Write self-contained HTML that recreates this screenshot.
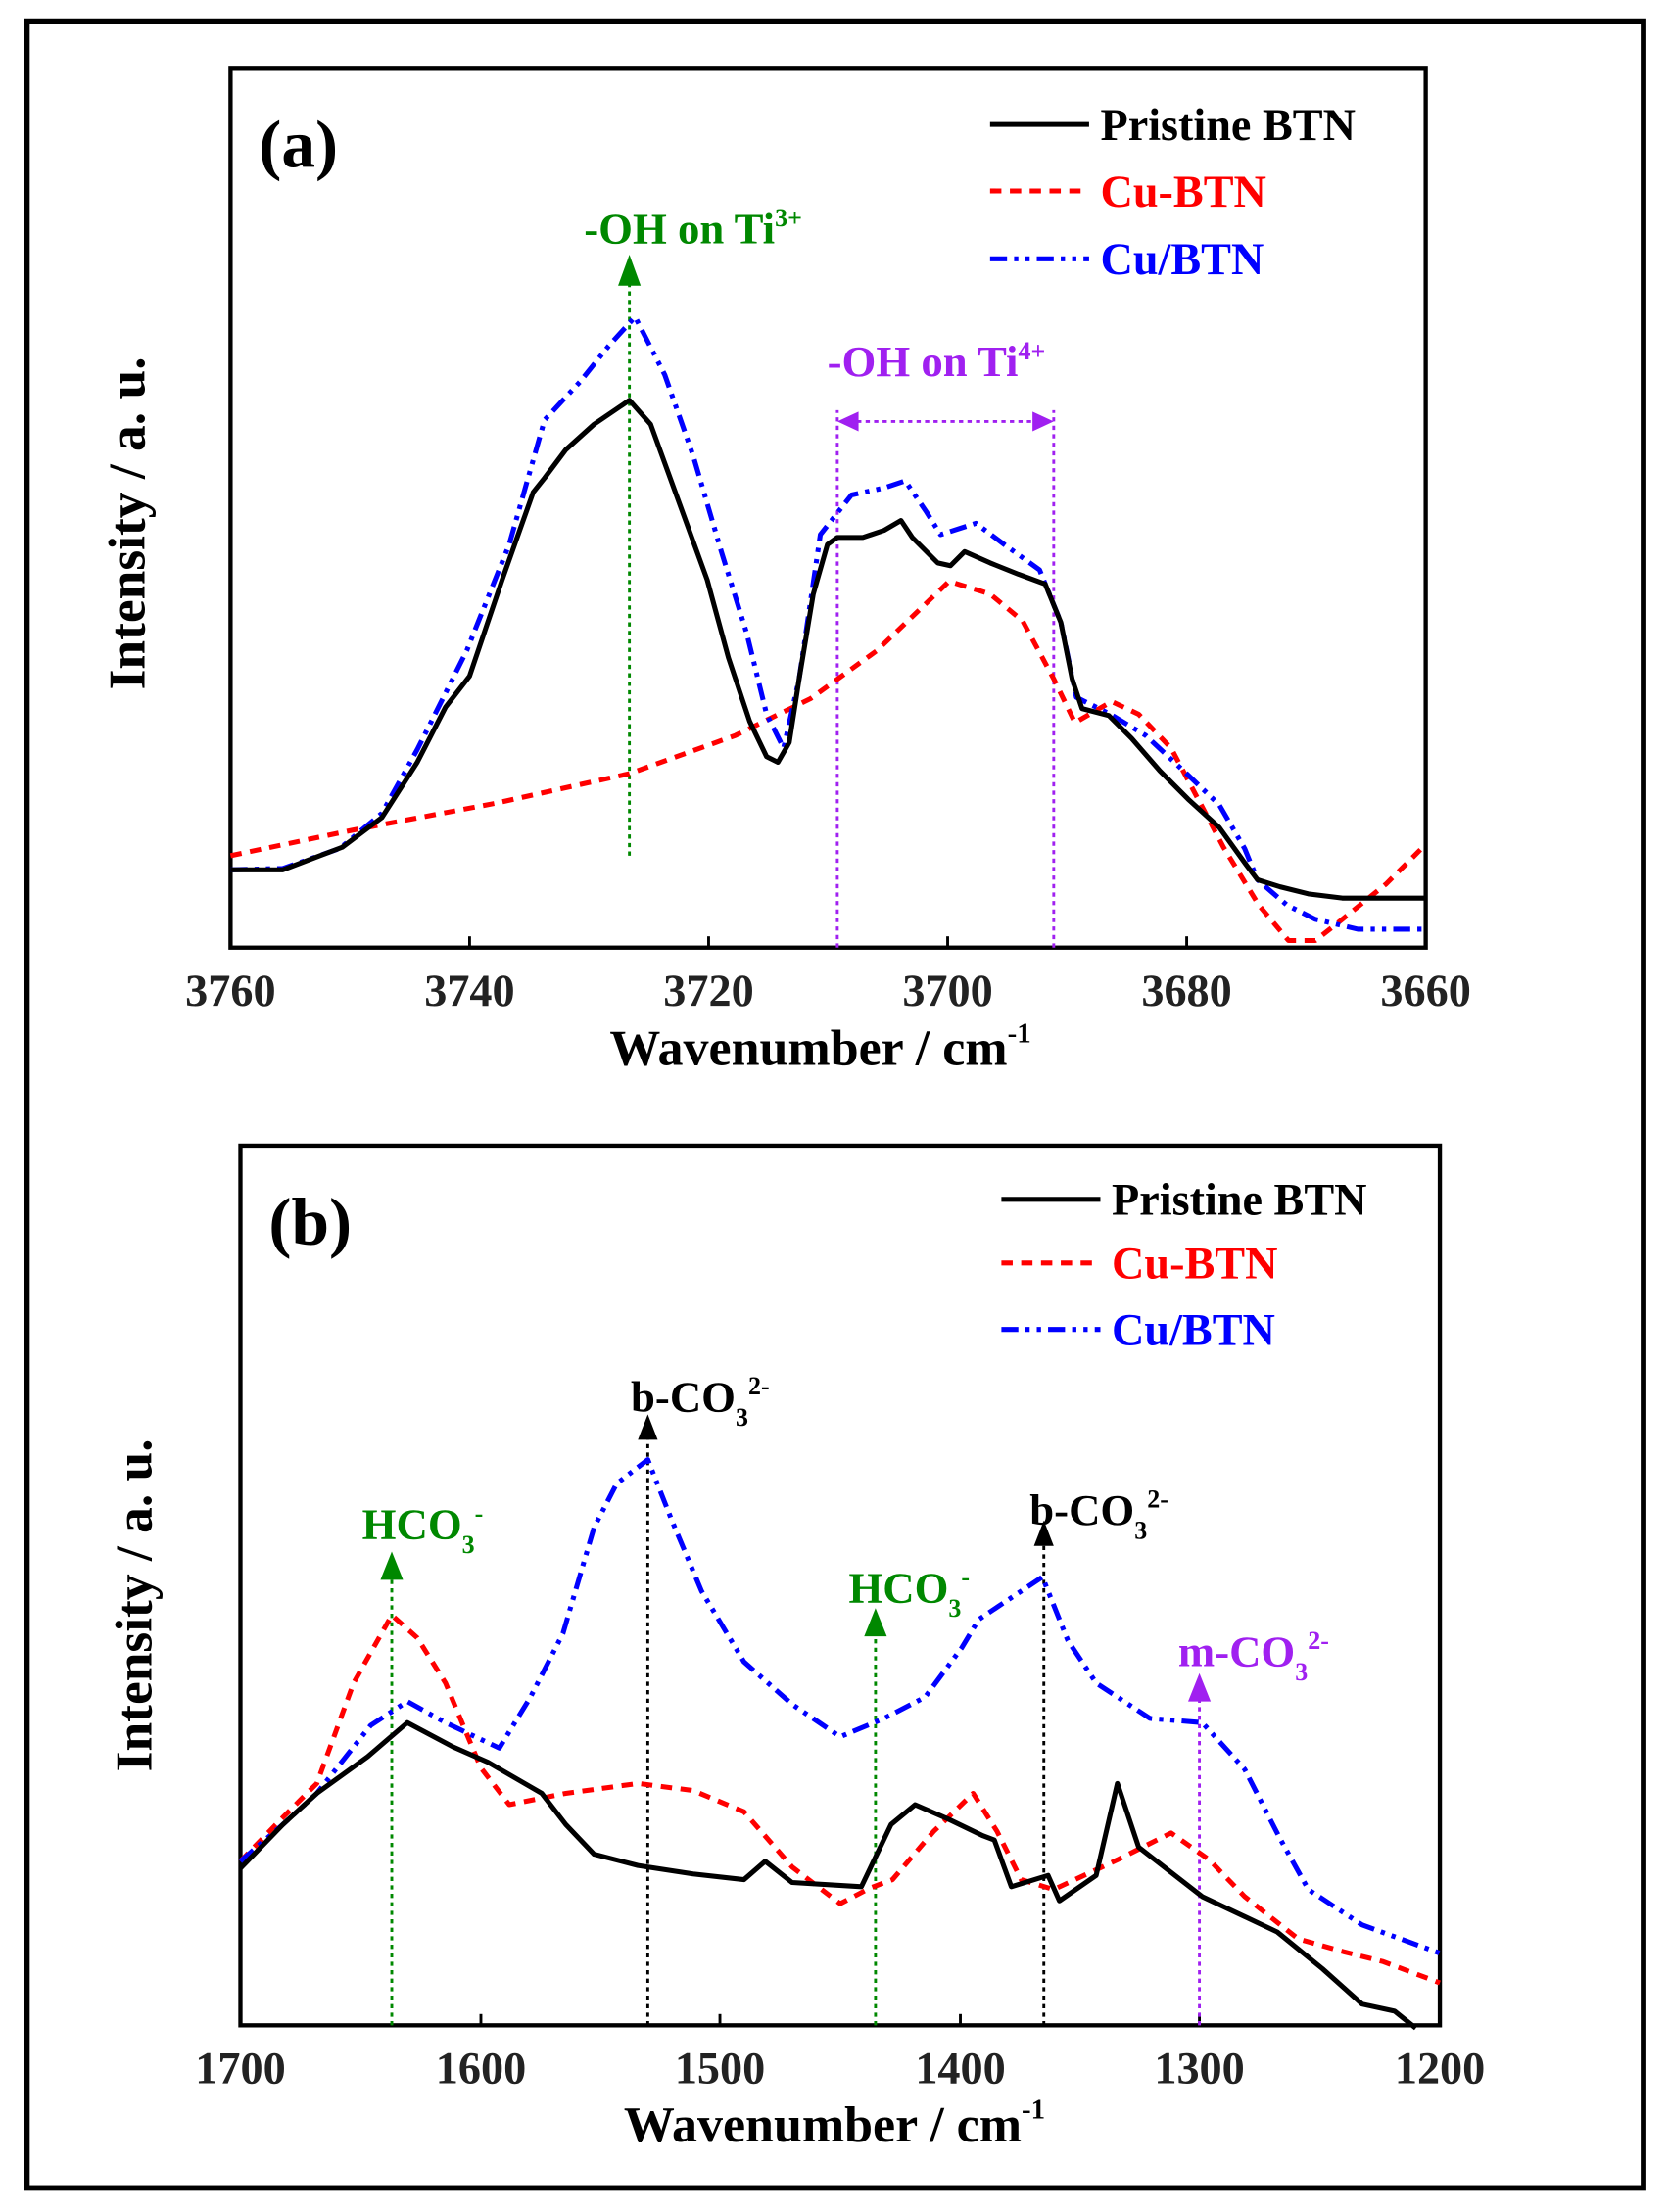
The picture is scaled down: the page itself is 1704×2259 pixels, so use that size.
<!DOCTYPE html>
<html><head><meta charset="utf-8"><style>html,body{margin:0;padding:0;background:#fff}svg{display:block}</style></head>
<body>
<svg width="1704" height="2259" viewBox="0 0 1180 1564" preserveAspectRatio="none" xmlns="http://www.w3.org/2000/svg" font-family="'Liberation Serif', serif" font-weight="bold">
<rect x="19" y="15" width="1143" height="1532" fill="none" stroke="#000" stroke-width="4"/>
<!-- Panel a -->
<rect x="163" y="48" width="845" height="622" fill="none" stroke="#000" stroke-width="3"/>
<g stroke="#000" stroke-width="2">
<line x1="332" y1="670" x2="332" y2="662"/><line x1="501" y1="670" x2="501" y2="662"/><line x1="670" y1="670" x2="670" y2="662"/><line x1="839" y1="670" x2="839" y2="662"/>
</g>
<g font-size="32" text-anchor="middle" fill="#222">
<text x="163" y="711">3760</text><text x="332" y="711">3740</text><text x="501" y="711">3720</text><text x="670" y="711">3700</text><text x="839" y="711">3680</text><text x="1008" y="711">3660</text>
</g>
<text x="580" y="753" font-size="36" text-anchor="middle">Wavenumber / cm<tspan font-size="20" dy="-16">-1</tspan></text>
<text transform="translate(102,370) rotate(-90)" font-size="37" text-anchor="middle">Intensity / a. u.</text>
<text x="183" y="118" font-size="48">(a)</text>
<g font-size="32">
<line x1="700" y1="88" x2="770" y2="88" stroke="#000" stroke-width="3.5"/><text x="778" y="99">Pristine BTN</text>
<line x1="700" y1="135" x2="770" y2="135" stroke="#f00" stroke-width="3.5" stroke-dasharray="8,6"/><text x="778" y="146" fill="#f00">Cu-BTN</text>
<line x1="700" y1="183" x2="770" y2="183" stroke="#00f" stroke-width="3.5" stroke-dasharray="12,5,3,5,3,5"/><text x="778" y="194" fill="#00f">Cu/BTN</text>
</g>
<!-- annotations a -->
<line x1="445" y1="605" x2="445" y2="195" stroke="#080" stroke-width="2" stroke-dasharray="3,3"/>
<polygon points="445,180 437,202 453,202" fill="#080"/>
<text x="490" y="172" font-size="31" fill="#080" text-anchor="middle">-OH on Ti<tspan font-size="18" dy="-12">3+</tspan></text>
<g stroke="#a020f0" stroke-width="2" stroke-dasharray="3,3" fill="none">
<line x1="592" y1="670" x2="592" y2="290"/><line x1="745" y1="670" x2="745" y2="290"/><line x1="600" y1="298" x2="737" y2="298"/>
</g>
<polygon points="592,298 607,291 607,305" fill="#a020f0"/><polygon points="745,298 730,291 730,305" fill="#a020f0"/>
<text x="662" y="266" font-size="31" fill="#a020f0" text-anchor="middle">-OH on Ti<tspan font-size="18" dy="-12">4+</tspan></text>
<g fill="none" stroke-width="3.5" stroke-linejoin="round">
<polyline stroke="#f00" stroke-dasharray="8,6" points="163,605 249,587 350,568 445,547 520,520 573,494 620,460 671,411 700,420 723,439 745,480 760,511 786,496 805,505 828,529 865,599 890,640 911,665 930,665 949,650 980,625 1008,597"/>
<polyline stroke="#00f" stroke-dasharray="12,5,3,5,3,5" points="163,615 200,614 240,600 270,575 295,530 330,460 360,385 385,297 410,270 430,245 449,224 470,265 490,322 510,390 528,448 542,505 554,529 565,480 580,378 602,350 625,345 640,340 655,362 665,378 690,370 710,385 735,403 750,440 761,493 785,505 810,520 840,548 862,569 880,600 889,622 910,640 930,650 960,657 1008,657"/>
<polyline stroke="#000" points="163,615 200,615 242,599 270,578 295,539 315,500 332,478 355,410 377,348 385,338 400,318 420,300 445,283 460,300 480,355 500,410 515,465 530,510 542,535 550,539 558,525 565,480 575,420 585,385 592,380 610,380 625,375 637,368 645,380 663,398 672,400 682,390 700,398 720,406 739,413 750,440 758,480 765,501 784,506 800,522 820,545 840,565 862,585 880,610 889,622 905,627 925,632 949,635 1008,635"/>
</g>
<!-- Panel b -->
<rect x="170" y="810" width="848" height="622" fill="none" stroke="#000" stroke-width="3"/>
<g stroke="#000" stroke-width="2">
<line x1="340" y1="1432" x2="340" y2="1424"/><line x1="509" y1="1432" x2="509" y2="1424"/><line x1="679" y1="1432" x2="679" y2="1424"/><line x1="848" y1="1432" x2="848" y2="1424"/>
</g>
<g font-size="32" text-anchor="middle" fill="#222">
<text x="170" y="1473">1700</text><text x="340" y="1473">1600</text><text x="509" y="1473">1500</text><text x="679" y="1473">1400</text><text x="848" y="1473">1300</text><text x="1018" y="1473">1200</text>
</g>
<text x="590" y="1514" font-size="36" text-anchor="middle">Wavenumber / cm<tspan font-size="20" dy="-16">-1</tspan></text>
<text transform="translate(107,1135) rotate(-90)" font-size="37" text-anchor="middle">Intensity / a. u.</text>
<text x="190" y="880" font-size="48">(b)</text>
<g font-size="32">
<line x1="708" y1="848" x2="778" y2="848" stroke="#000" stroke-width="3.5"/><text x="786" y="859">Pristine BTN</text>
<line x1="708" y1="893" x2="778" y2="893" stroke="#f00" stroke-width="3.5" stroke-dasharray="8,6"/><text x="786" y="904" fill="#f00">Cu-BTN</text>
<line x1="708" y1="940" x2="778" y2="940" stroke="#00f" stroke-width="3.5" stroke-dasharray="12,5,3,5,3,5"/><text x="786" y="951" fill="#00f">Cu/BTN</text>
</g>
<!-- annotations b -->
<g stroke-width="2" stroke-dasharray="3,3" fill="none">
<line x1="277" y1="1432" x2="277" y2="1112" stroke="#080"/>
<line x1="458" y1="1432" x2="458" y2="1012" stroke="#000"/>
<line x1="619" y1="1432" x2="619" y2="1152" stroke="#080"/>
<line x1="738" y1="1432" x2="738" y2="1090" stroke="#000"/>
<line x1="848" y1="1432" x2="848" y2="1198" stroke="#a020f0"/>
</g>
<polygon points="277,1097 269,1117 285,1117" fill="#080"/>
<polygon points="458,1000 451,1018 465,1018" fill="#000"/>
<polygon points="619,1137 611,1157 627,1157" fill="#080"/>
<polygon points="738,1075 731,1093 745,1093" fill="#000"/>
<polygon points="848,1183 840,1203 856,1203" fill="#a020f0"/>
<text x="256" y="1088" font-size="31" fill="#080">HCO<tspan font-size="18" dy="10">3</tspan><tspan font-size="18" dy="-22">-</tspan></text>
<text x="446" y="998" font-size="31" fill="#000">b-CO<tspan font-size="18" dy="10">3</tspan><tspan font-size="18" dy="-22">2-</tspan></text>
<text x="600" y="1133" font-size="31" fill="#080">HCO<tspan font-size="18" dy="10">3</tspan><tspan font-size="18" dy="-22">-</tspan></text>
<text x="728" y="1078" font-size="31" fill="#000">b-CO<tspan font-size="18" dy="10">3</tspan><tspan font-size="18" dy="-22">2-</tspan></text>
<text x="833" y="1178" font-size="31" fill="#a020f0">m-CO<tspan font-size="18" dy="10">3</tspan><tspan font-size="18" dy="-22">2-</tspan></text>
<g fill="none" stroke-width="3.5" stroke-linejoin="round">
<polyline stroke="#f00" stroke-dasharray="8,6" points="170,1316 200,1285 224,1261 250,1190 277,1142 295,1158 315,1190 340,1250 360,1276 400,1268 451,1261 490,1266 526,1281 560,1320 594,1346 615,1335 631,1329 660,1295 688,1268 705,1295 722,1329 745,1336 790,1315 828,1296 855,1315 880,1341 918,1371 950,1380 978,1387 1018,1402"/>
<polyline stroke="#00f" stroke-dasharray="12,5,3,5,3,5" points="170,1316 200,1290 224,1268 262,1220 288,1203 315,1218 353,1236 375,1200 398,1155 420,1080 436,1049 458,1032 475,1075 496,1125 526,1175 560,1205 594,1228 625,1215 654,1200 680,1165 692,1145 737,1115 755,1160 775,1190 813,1215 850,1218 880,1251 905,1300 925,1336 963,1361 1018,1381"/>
<polyline stroke="#000" points="170,1321 200,1290 224,1268 260,1242 288,1218 320,1235 345,1246 383,1268 400,1290 420,1311 451,1319 490,1325 526,1329 541,1316 560,1331 609,1334 630,1290 647,1276 670,1286 695,1298 703,1301 715,1334 741,1326 749,1344 775,1326 790,1261 805,1306 850,1341 903,1366 935,1392 963,1417 986,1422 1001,1434"/>
</g>
</svg>
</body></html>
